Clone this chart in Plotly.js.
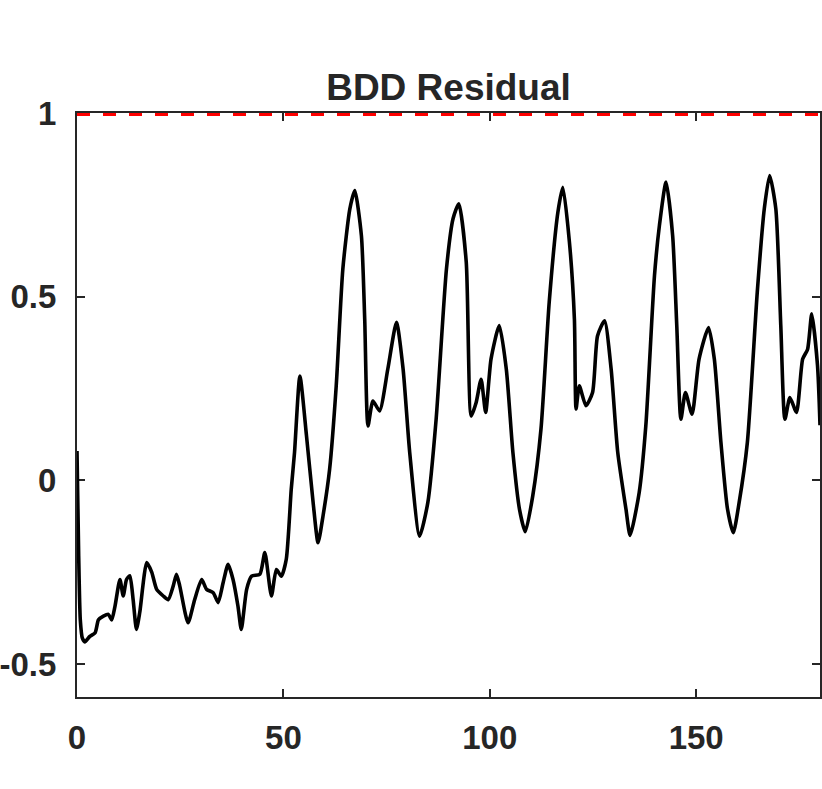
<!DOCTYPE html>
<html>
<head>
<meta charset="utf-8">
<script src="https://cdn.plot.ly/plotly-3.0.1.min.js"></script>
<style>html,body{margin:0;padding:0;background:#fff;}#chart{width:822px;height:789px;}</style>
</head>
<body>
<div id="chart"></div>
<script>
// Residual series (time vs. residual)
const timeValues = [0, 0.4, 0.8, 1.3, 1.9, 3.1, 4.4, 5.2, 6.4, 7.6, 8.4, 9.2, 10.4, 11.2, 12.0, 12.8, 13.6, 14.4, 15.2, 16.9, 18.1, 19.3, 20.9, 22.1, 23.3, 24.1, 24.9, 26.9, 28.5, 30.2, 31.4, 33.0, 34.2, 35.4, 36.6, 37.8, 39.0, 39.8, 41.1, 42.3, 44.3, 45.5, 47.1, 48.3, 49.5, 50.7, 51.9,
  52.7, 54.0, 55.6, 57.2, 58.4, 59.6, 61.2, 62.8, 64.4, 66.1, 67.3, 68.9, 69.7, 70.5, 71.7, 73.3, 75.3, 77.4, 79.0, 80.6, 83.0, 85.0, 87.0, 89.5, 91.1, 92.5, 94.3, 95.5,
  96.7, 97.9, 99.0, 100.3, 102.3, 104.0, 105.6, 107.2, 108.6, 110.4, 112.4, 114.4, 116.5, 117.7, 119.3, 120.5, 120.9, 121.7, 123.3, 124.9, 126.1, 127.8, 129.4, 131.0, 133.0, 134.0, 136.2, 137.8, 139.9, 141.1, 142.7, 144.3, 145.3, 146.3, 147.4, 149.0, 150.7, 153.0, 154.4, 156.0, 157.6, 159.0, 160.4, 162.4, 164.8, 166.5, 167.8, 169.3, 170.5, 171.5, 172.7, 174.3, 175.8, 177.0, 178.0, 179.4, 180];
const residualValues = [0.08, -0.2, -0.38, -0.43, -0.44, -0.425, -0.415, -0.38, -0.37, -0.365, -0.38, -0.343, -0.27, -0.315, -0.27, -0.26, -0.325, -0.406, -0.36, -0.224, -0.25, -0.297, -0.315, -0.325, -0.288, -0.256, -0.288, -0.388, -0.325, -0.27, -0.297, -0.306, -0.333, -0.279, -0.229, -0.27, -0.343, -0.406, -0.297, -0.261, -0.256, -0.197, -0.315, -0.243, -0.261, -0.215, -0.025,
  0.076, 0.284, 0.121, -0.06, -0.17, -0.097, 0.03, 0.257, 0.575, 0.739, 0.789, 0.666, 0.439, 0.148, 0.216, 0.189, 0.303, 0.43, 0.303, 0.076, -0.152, -0.06, 0.166, 0.575, 0.712, 0.753, 0.594, 0.175,
  0.212, 0.275, 0.185, 0.33, 0.421, 0.303, 0.076, -0.079, -0.14, -0.043, 0.139, 0.485, 0.73, 0.798, 0.648, 0.439, 0.194, 0.257, 0.203, 0.239, 0.393, 0.434, 0.303, 0.076, -0.079, -0.15, -0.033, 0.148, 0.557, 0.694, 0.812, 0.666, 0.421, 0.166, 0.239, 0.18, 0.33, 0.416, 0.33, 0.103, -0.079, -0.143, -0.061, 0.103, 0.512, 0.739, 0.83, 0.739, 0.421, 0.166, 0.225, 0.185, 0.33, 0.357, 0.453, 0.312, 0.15];

// Threshold line
const thresholdX = [0, 180];
const thresholdY = [1, 1];

// Axis ticks
const xTickVals = [0, 50, 100, 150];
const xTickText = ['0', '50', '100', '150'];
const yTickVals = [-0.5, 0, 0.5, 1];
const yTickText = ['-0.5', '0', '0.5', '1'];

const textColor = '#262626';
const fontFamily = '"Liberation Sans", Arial, Helvetica, sans-serif';

const traces = [
  {
    x: timeValues, y: residualValues, type: 'scatter', mode: 'lines',
    line: {color: '#000000', width: 3.6, shape: 'spline', smoothing: 0.6},
    hoverinfo: 'skip'
  },
  {
    x: thresholdX, y: thresholdY, type: 'scatter', mode: 'lines',
    line: {color: '#ff0000', width: 6, dash: '13px,13px'},
    hoverinfo: 'skip'
  }
];

const axisCommon = {
  showgrid: false, zeroline: false, showline: true, linecolor: textColor, linewidth: 2,
  mirror: 'ticks', ticks: 'inside', ticklen: 8, tickwidth: 2, tickcolor: textColor,
  tickfont: {family: fontFamily, size: 33, color: textColor, weight: 'bold'},
  layer: 'below traces', fixedrange: true
};

const layout = {
  width: 822, height: 789,
  margin: {l: 77, r: 2, t: 113, b: 92},
  paper_bgcolor: '#ffffff', plot_bgcolor: '#ffffff',
  showlegend: false,
  title: {
    text: '<b>BDD Residual</b>',
    font: {family: fontFamily, size: 37, color: textColor},
    x: 0.5, xref: 'paper', xanchor: 'center',
    y: 1 - 87 / 789, yref: 'container', yanchor: 'middle'
  },
  xaxis: Object.assign({}, axisCommon, {
    range: [0, 180], tickvals: xTickVals, ticktext: xTickText, ticklabelstandoff: 10
  }),
  yaxis: Object.assign({}, axisCommon, {
    range: [-0.59, 1], tickvals: yTickVals, ticktext: yTickText, ticklabelstandoff: 12
  })
};

Plotly.newPlot('chart', traces, layout, {staticPlot: true, displayModeBar: false});
</script>
</body>
</html>
